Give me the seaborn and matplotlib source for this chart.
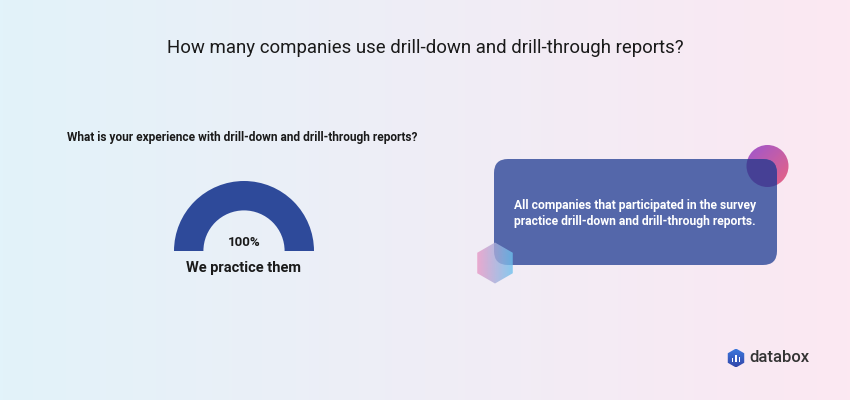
import numpy as np
import pandas as pd
import seaborn as sns
import matplotlib
matplotlib.use("Agg")
import matplotlib.pyplot as plt
from matplotlib.patches import FancyBboxPatch, Circle, RegularPolygon

# ---- data ----
title = "How many companies use drill-down and drill-through reports?"
question = "What is your experience with drill-down and drill-through reports?"
categories = ["We practice them"]
values = [100]
insight = "All companies that participated in the survey\npractice drill-down and drill-through reports."
brand = "databox"

sns.set_theme(style="white")
plt.rcParams["font.family"] = ["Roboto", "DejaVu Sans"]

W, H = 850, 400
fig = plt.figure(figsize=(8.5, 4.0), dpi=100)

# background gradient
bg = fig.add_axes([0, 0, 1, 1])
grad = np.linspace(0, 1, 256)
left = np.array([226, 243, 250]) / 255
right = np.array([252, 232, 242]) / 255
img = left[None, None, :] * (1 - grad[None, :, None]) + right[None, None, :] * grad[None, :, None]
bg.imshow(img, extent=[0, W, 0, H], aspect="auto")
bg.set_xlim(0, W)
bg.set_ylim(H, 0)
bg.axis("off")

# title and question
bg.text(425, 48, title, ha="center", va="center", fontsize=13.4, color="#1a1a1a")
bg.text(67, 138, question, ha="left", va="center", fontsize=8.6, fontweight="bold", color="#1a1a1a")

yy, xx = np.mgrid[0:1:100j, 0:1:100j]

# decorative circle (gradient) behind box
circ_img = np.zeros((100, 100, 4))
t = (xx + yy) / 2
c1 = np.array([145, 70, 205]) / 255
c2 = np.array([235, 85, 115]) / 255
circ_img[..., :3] = c1 * (1 - t[..., None]) + c2 * t[..., None]
circ_img[..., 3] = 0.9
im = bg.imshow(circ_img, extent=[746, 789, 188, 145], zorder=2)
im.set_clip_path(Circle((767.5, 166), 21, transform=bg.transData))

# insight box
box = FancyBboxPatch((494 + 14, 159 + 14), 283 - 28, 106 - 28,
                     boxstyle="round,pad=14", fc="#5467aa", ec="none", zorder=3)
bg.add_patch(box)
# overlap of circle and box (darker)
ov = Circle((767.5, 166), 21, fc="#463e94", ec="none", alpha=0.95, zorder=4)
bg.add_patch(ov)
ov.set_clip_path(box)

# decorative hexagon
hex_img = np.zeros((100, 100, 4))
h1 = np.array([240, 150, 195]) / 255
h2 = np.array([100, 195, 240]) / 255
hex_img[..., :3] = h1 * (1 - xx[..., None]) + h2 * xx[..., None]
hex_img[..., 3] = 0.8
im2 = bg.imshow(hex_img, extent=[475, 515, 284, 242], zorder=5)
im2.set_clip_path(RegularPolygon((495, 263), 6, radius=20.5, orientation=0, transform=bg.transData))

bg.text(635, 214, insight, ha="center", va="center", fontsize=8.7, fontweight="bold",
        color="white", linespacing=1.3, zorder=6)

# databox logo
im3_img = np.zeros((100, 100, 4))
im3_img[..., :3] = (np.array([60, 120, 220]) / 255) * (1 - yy[..., None]) + (np.array([50, 70, 170]) / 255) * yy[..., None]
im3_img[..., 3] = 1
im3 = bg.imshow(im3_img, extent=[727, 745, 367, 349], zorder=4)
im3.set_clip_path(RegularPolygon((736, 358), 6, radius=9.5, orientation=0, transform=bg.transData))
for bx, bh in zip([732.5, 736, 739.5], [4, 7, 5]):
    bg.add_patch(plt.Rectangle((bx - 0.9, 362 - bh), 1.8, bh, fc="white", ec="none", zorder=5))
bg.text(749, 358, brand, ha="left", va="center", fontsize=12, color="#333333", fontweight="medium")

# gauge (half donut)
cx, cy, r = 244, 251, 70
gx = fig.add_axes([(cx - r) / W, 1 - (cy + r) / H, 2 * r / W, 2 * r / H])
total = 100
gx.pie(values + [total - values[0], total], startangle=0, counterclock=True,
       colors=["#2e4a9a", "none", "none"],
       wedgeprops=dict(width=0.42, edgecolor="none"), radius=1)
gx.set_xlim(-1, 1)
gx.set_ylim(-1, 1)
gx.set_aspect("equal")
gx.axis("off")

bg.text(cx, 243, f"{values[0]}%", ha="center", va="center", fontsize=9.5, fontweight="bold", color="#1a1a1a")
bg.text(cx, 268, categories[0], ha="center", va="center", fontsize=10.5, fontweight="bold", color="#1a1a1a")

fig.savefig("out.png", dpi=100)
